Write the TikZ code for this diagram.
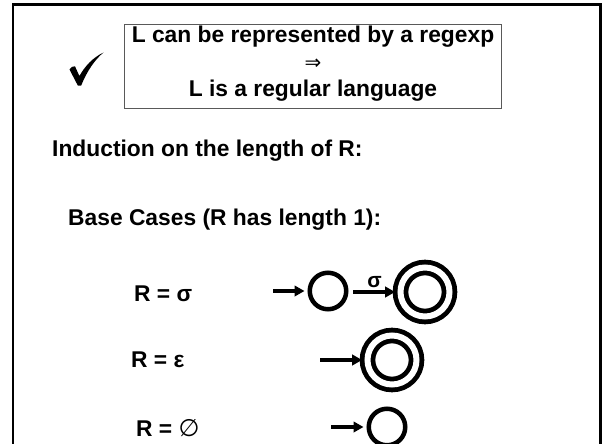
\documentclass[tikz,border=0pt]{standalone}
\usepackage{fontspec}
\setmainfont{Liberation Sans}
\newfontfamily\symfont{DejaVu Sans}
\usetikzlibrary{arrows.meta}
\begin{document}
\begin{tikzpicture}[x=1pt,y=-1pt,
  txt/.style={font=\fontsize{22.8}{27}\selectfont\bfseries, inner sep=0pt},
  rowtxt/.style={txt, anchor=west},
  state/.style={circle, draw, line width=4.5pt, minimum size=36.5pt, inner sep=0pt},
  accept/.style={circle, draw, line width=4.8pt, double=white, double distance=6pt, minimum size=49pt, inner sep=0pt},
  feed/.style={line width=3.3pt, shorten >=3pt, -{Triangle[length=10pt,width=10.5pt]}}]
\useasboundingbox (0,0) rectangle (602,444);
% slide frame, open at the bottom
\draw[line width=2.6pt] (13,444) -- (13,4.3) -- (600.7,4.3) -- (600.7,444);
% hand-drawn check mark
\fill (69.5,69.5) .. controls (71,67) and (73,66) .. (75,66.3) -- (79.4,76)
  .. controls (85,66) and (93,57.5) .. (103.5,52.5)
  .. controls (95,59.5) and (87,71) .. (81.2,85.5) -- (77.8,85.5) -- cycle;
% claim box
\draw[draw=black!65, line width=0.9pt] (124.3,24.3) rectangle (501.7,108);
\node[txt] (l1) at (313,37) {L can be represented by a regexp};
\node[inner sep=0pt, font=\symfont\fontsize{20}{24}\selectfont] (l2) at (313,64) {⇒};
\node[txt] (l3) at (313,91) {L is a regular language};
% headings
\node[rowtxt] (ind) at (52,151) {Induction on the length of R:};
\node[rowtxt] (base) at (68,220) {Base Cases (R has length 1):};
% R = sigma
\node[rowtxt] (rs) at (134,294) {R = σ};
\node[state] (s0) at (328,291) {};
\node[accept] (s1) at (425,292) {};
\coordinate (s0in) at (273,291);
\coordinate (s1in) at (353,292);
\draw[feed] (s0in) -- (s0);
\draw[feed] (s1in) -- node[txt, above=3pt, xshift=-1pt, font=\fontsize{21}{24}\selectfont\bfseries] (sig) {σ} (s1);
% R = epsilon
\node[rowtxt] (re) at (131,360) {R = ε};
\node[accept] (e0) at (392,360) {};
\coordinate (e0in) at (320,360);
\draw[feed] (e0in) -- (e0);
% R = empty set
\node[rowtxt] (rn) at (136,428) {R = {\symfont\mdseries\fontsize{24}{26}\selectfont ∅}};
\node[state] (n0) at (387,427) {};
\coordinate (n0in) at (331,427);
\draw[feed] (n0in) -- (n0);
\end{tikzpicture}
\end{document}
